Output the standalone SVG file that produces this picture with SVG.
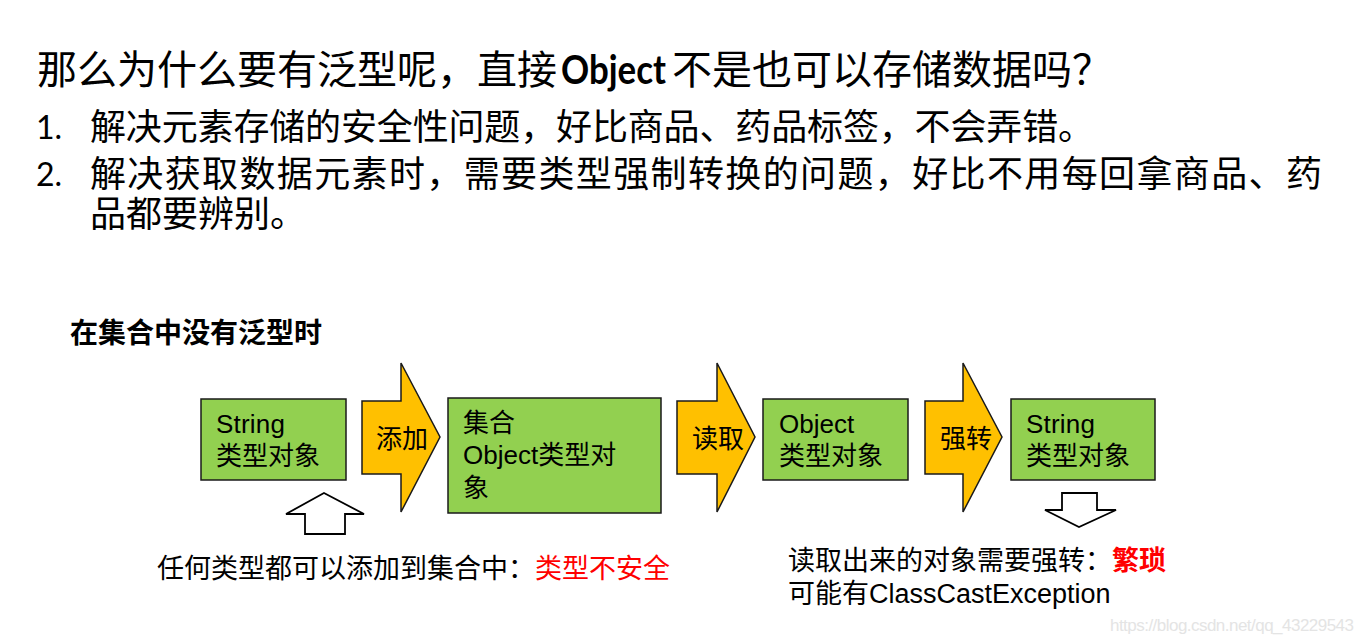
<svg xmlns="http://www.w3.org/2000/svg" width="1363" height="642" viewBox="0 0 1363 642">
<style>
.t{font-family:"Liberation Sans","Noto Sans CJK SC",sans-serif;fill:#000}
.cjk{font-family:"Noto Sans CJK SC","Liberation Sans",sans-serif;fill:#000}
.lat{font-family:Lato,"Liberation Sans",sans-serif;fill:#000}
.box{fill:#92D050;stroke:#1a1a1a;stroke-width:1.5}
.blk{fill:#FFC000;stroke:#1a1a1a;stroke-width:1.5;stroke-linejoin:miter}
.hol{fill:#fff;stroke:#000;stroke-width:1.8}
.bx{font-size:26px}
.red{fill:#FF0000}
</style>
<rect width="1363" height="642" fill="#fff"/>
<g id="title">
<text class="cjk" x="37" y="84" font-size="40">那么为什么要有泛型呢，直接</text>
<text class="lat" x="561" y="84" font-size="40" font-weight="bold" textLength="105" lengthAdjust="spacingAndGlyphs">Object</text>
<text class="cjk" x="672" y="84" font-size="40">不是也可以存储数据吗？</text>
</g>
<g id="points">
<text class="lat" x="36" y="139" font-size="32">1.</text>
<text class="cjk" x="90" y="140" font-size="36" textLength="1004" lengthAdjust="spacing">解决元素存储的安全性问题，好比商品、药品标签，不会弄错。</text>
<text class="lat" x="36" y="186" font-size="32">2.</text>
<text class="cjk" x="90" y="187" font-size="36" textLength="1232" lengthAdjust="spacing">解决获取数据元素时，需要类型强制转换的问题，好比不用每回拿商品、药</text>
<text class="cjk" x="90" y="227" font-size="36">品都要辨别。</text>
</g>
<g id="heading">
<text class="cjk" x="70" y="343" font-size="28" font-weight="bold">在集合中没有泛型时</text>
</g>
<g id="node-string1">
<rect class="box" x="201" y="399" width="145" height="81"/>
<text class="t bx" x="216" y="433" textLength="69">String</text>
<text class="cjk bx" x="216" y="465">类型对象</text>
</g>
<g id="node-collection">
<rect class="box" x="448" y="398" width="213" height="115"/>
<text class="cjk bx" x="463" y="432">集合</text>
<text class="t bx" x="463" y="464">Object<tspan class="cjk">类型对</tspan></text>
<text class="cjk bx" x="463" y="497">象</text>
</g>
<g id="node-object">
<rect class="box" x="763" y="399" width="145" height="81"/>
<text class="t bx" x="779" y="433">Object</text>
<text class="cjk bx" x="779" y="465">类型对象</text>
</g>
<g id="node-string2">
<rect class="box" x="1011" y="399" width="144" height="81"/>
<text class="t bx" x="1026" y="433" textLength="69">String</text>
<text class="cjk bx" x="1026" y="465">类型对象</text>
</g>
<g id="connectors">
<g id="arrow-add">
<polygon class="blk" points="362,401 401,401 401,363 440,437 401,512 401,474 362,474"/>
<text class="cjk bx" x="376" y="448">添加</text>
</g>
<g id="arrow-read">
<polygon class="blk" points="677,401 717,401 717,363 755,437 717,512 717,474 677,474"/>
<text class="cjk bx" x="692" y="448">读取</text>
</g>
<g id="arrow-cast">
<polygon class="blk" points="925,401 963,401 963,363 1002,437 963,512 963,474 925,474"/>
<text class="cjk bx" x="940" y="448">强转</text>
</g>
<polygon id="arrow-up" class="hol" points="324,493 364,514 345,514 345,534 305,534 305,514 286,514"/>
<polygon id="arrow-down" class="hol" points="1062,493 1097,493 1097,510 1116,510 1079,527 1045,510 1062,510"/>
</g>
<g id="note-left">
<text class="cjk" x="157" y="578" font-size="27">任何类型都可以添加到集合中：<tspan class="red">类型不安全</tspan></text>
</g>
<g id="note-right">
<text class="cjk" x="788" y="570" font-size="27">读取出来的对象需要强转：<tspan class="red" font-weight="bold">繁琐</tspan></text>
<text class="cjk" x="788" y="603" font-size="27">可能有<tspan class="t">ClassCastException</tspan></text>
</g>
<text x="1110" y="631" font-family="Liberation Sans, sans-serif" font-size="17" fill="#e4e4e4" textLength="244">https://blog.csdn.net/qq_43229543</text>
</svg>
